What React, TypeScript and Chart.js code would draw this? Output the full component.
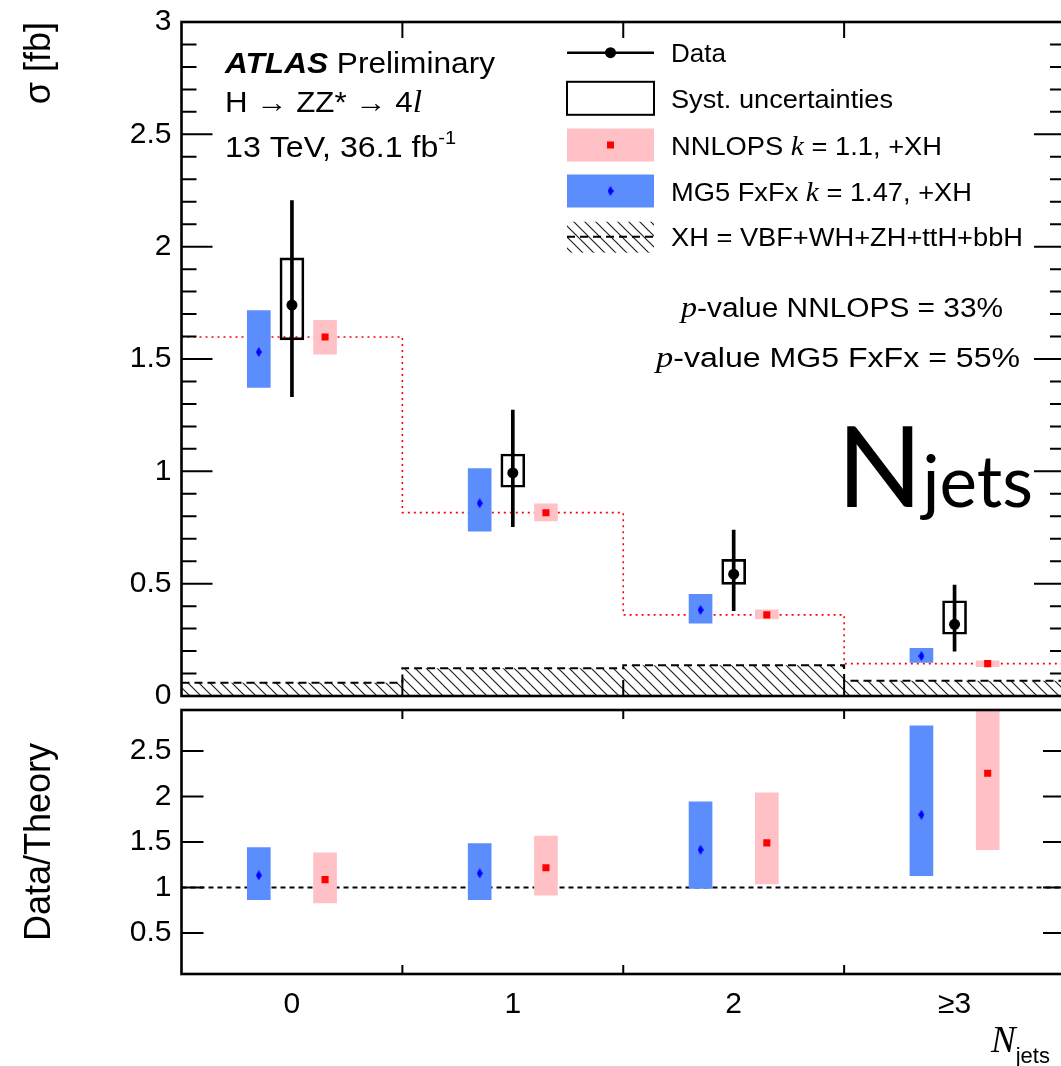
import React, { useEffect, useRef } from 'react';
import { Chart, registerables } from 'chart.js';

Chart.register(...registerables);

// ---------------- data ----------------
const categories = ['0', '1', '2', '≥3'];
const binEdges = [-0.5, 0.5, 1.5, 2.5, 3.5];

const dataVal = [1.74, 0.993, 0.542, 0.319];
const dataLo = [1.332, 0.754, 0.38, 0.2];
const dataHi = [2.205, 1.273, 0.739, 0.494];
const systLo = [1.585, 0.929, 0.497, 0.275];
const systHi = [1.95, 1.077, 0.608, 0.424];

const nnlopsVal = [1.598, 0.816, 0.361, 0.144];
const nnlopsLo = [1.522, 0.779, 0.343, 0.13];
const nnlopsHi = [1.672, 0.855, 0.383, 0.156];

const mg5Val = [1.531, 0.858, 0.383, 0.178];
const mg5Lo = [1.374, 0.734, 0.324, 0.15];
const mg5Hi = [1.715, 1.012, 0.453, 0.212];

const xhVal = [0.059, 0.123, 0.137, 0.068];

const ratioMg5Val = [1.134, 1.156, 1.415, 1.8];
const ratioMg5Lo = [0.866, 0.866, 0.99, 1.13];
const ratioMg5Hi = [1.44, 1.484, 1.94, 2.776];
const ratioNnlopsVal = [1.087, 1.218, 1.49, 2.255];
const ratioNnlopsLo = [0.83, 0.916, 1.04, 1.415];
const ratioNnlopsHi = [1.38, 1.564, 2.04, 3.1];

const topYTicks = [0, 0.5, 1, 1.5, 2, 2.5, 3];
const ratioYTicks = [0.5, 1, 1.5, 2, 2.5];
const ratioRef = 1;

const legendLabels = [
  'Data',
  'Syst. uncertainties',
  'NNLOPS k = 1.1, +XH',
  'MG5 FxFx k = 1.47, +XH',
  'XH = VBF+WH+ZH+ttH+bbH',
];
const pValueNnlops = '33%';
const pValueMg5 = '55%';

// ---------------- styling constants ----------------
const MG5_OFF = -0.15;
const NNLOPS_OFF = 0.15;
const BLUE = '#5b8dfd';
const PINK = '#ffc1c5';
const SANS = 'Liberation Sans';
const SERIF = 'Liberation Serif';
const BOT_TOP = 680;

const pts = (vals: number[], off = 0) => vals.map((v, i) => ({ x: i + off, y: v }));
const ranges = (lo: number[], hi: number[], off = 0) =>
  lo.map((l, i) => ({ x: i + off, y: [l, hi[i]] }));
const steps = (vals: number[]) => [
  ...vals.map((v, i) => ({ x: binEdges[i], y: v })),
  { x: binEdges[vals.length], y: vals[vals.length - 1] },
];

type Seg = { t: string; f: string; dy?: number };
function drawSegs(
  ctx: CanvasRenderingContext2D,
  x: number,
  y: number,
  segs: Seg[],
  target?: number,
) {
  ctx.textAlign = 'left';
  ctx.textBaseline = 'alphabetic';
  const widths = segs.map((s) => {
    ctx.font = s.f;
    return ctx.measureText(s.t).width;
  });
  const total = widths.reduce((a, b) => a + b, 0);
  const sx = target ? target / total : 1;
  ctx.save();
  ctx.translate(x, y);
  ctx.scale(sx, 1);
  let cx = 0;
  segs.forEach((s, i) => {
    ctx.font = s.f;
    ctx.fillText(s.t, cx, s.dy || 0);
    cx += widths[i];
  });
  ctx.restore();
}

function makeHatch(ctx: CanvasRenderingContext2D): CanvasPattern {
  const c = document.createElement('canvas');
  const s = 11;
  c.width = s;
  c.height = s;
  const g = c.getContext('2d')!;
  g.strokeStyle = '#222';
  g.lineWidth = 1.2;
  g.beginPath();
  g.moveTo(-2, -2);
  g.lineTo(s + 2, s + 2);
  g.moveTo(-2, s - 2);
  g.lineTo(2, s + 2);
  g.moveTo(s - 2, -2);
  g.lineTo(s + 2, 2);
  g.stroke();
  return ctx.createPattern(c, 'repeat')!;
}

function makeDiamond(): HTMLCanvasElement {
  const c = document.createElement('canvas');
  c.width = 6;
  c.height = 10;
  const g = c.getContext('2d')!;
  g.fillStyle = '#0000ff';
  g.beginPath();
  g.moveTo(3, 0);
  g.lineTo(6, 5);
  g.lineTo(3, 10);
  g.lineTo(0, 5);
  g.closePath();
  g.fill();
  return c;
}

function frameTicks(opts: {
  minorStep: number;
  majorStep: number;
  minorLen: number;
  majorLen: number;
  xLen: number;
}) {
  return {
    id: 'frameTicks',
    afterDatasetsDraw(chart: any) {
      const { ctx, chartArea: a, scales } = chart;
      const xs = scales.x;
      const ys = scales.y;
      ctx.save();
      ctx.strokeStyle = '#000';
      ctx.lineWidth = 2;
      ctx.beginPath();
      const n = Math.round((ys.max - ys.min) / opts.minorStep);
      const start = Math.ceil(ys.min / opts.minorStep - 1e-6) * opts.minorStep;
      for (let i = 0; i <= n + 1; i++) {
        const v = start + i * opts.minorStep;
        if (v > ys.max + 1e-9) break;
        const ratio = v / opts.majorStep;
        const major = Math.abs(ratio - Math.round(ratio)) < 1e-6;
        const len = major ? opts.majorLen : opts.minorLen;
        if (len <= 0) continue;
        const py = ys.getPixelForValue(v);
        ctx.moveTo(a.left, py);
        ctx.lineTo(a.left + len, py);
        ctx.moveTo(a.right, py);
        ctx.lineTo(a.right - len, py);
      }
      for (let i = 1; i < binEdges.length - 1; i++) {
        const px = xs.getPixelForValue(binEdges[i]);
        ctx.moveTo(px, a.top);
        ctx.lineTo(px, a.top + opts.xLen);
        ctx.moveTo(px, a.bottom);
        ctx.lineTo(px, a.bottom - opts.xLen);
      }
      ctx.stroke();
      ctx.lineWidth = 2.6;
      ctx.strokeRect(a.left, a.top, a.right - a.left, a.bottom - a.top);
      ctx.restore();
    },
  };
}

const fixYScale = (s: any) => {
  s.width = 181.5;
  s.paddingTop = 0;
  s.paddingBottom = 0;
};

export default function App() {
  const topRef = useRef<HTMLCanvasElement>(null);
  const botRef = useRef<HTMLCanvasElement>(null);

  useEffect(() => {
    const topCanvas = topRef.current!;
    const botCanvas = botRef.current!;
    const hatch = makeHatch(topCanvas.getContext('2d')!);
    const diamond = makeDiamond();

    const tickFont = { family: SANS, size: 30 };

    const overlayText = {
      id: 'overlayText',
      afterDraw(chart: any) {
        const ctx: CanvasRenderingContext2D = chart.ctx;
        ctx.save();
        ctx.fillStyle = '#000';
        // ATLAS label
        drawSegs(
          ctx,
          225,
          73,
          [
            { t: 'ATLAS', f: `italic bold 29px ${SANS}` },
            { t: ' Preliminary', f: `29px ${SANS}` },
          ],
          270,
        );
        drawSegs(
          ctx,
          225,
          112,
          [
            { t: 'H → ZZ* → 4', f: `29px ${SANS}` },
            { t: 'l', f: `italic 31px ${SERIF}` },
          ],
          197,
        );
        drawSegs(
          ctx,
          225,
          157,
          [
            { t: '13 TeV, 36.1 fb', f: `29px ${SANS}` },
            { t: '-1', f: `18px ${SANS}`, dy: -13 },
          ],
          231,
        );

        // legend
        const rows = [52.7, 98.3, 145, 191, 236.7];
        const sx0 = 567;
        const sx1 = 654;
        const sxc = (sx0 + sx1) / 2;
        const bh = 33;
        ctx.strokeStyle = '#000';
        ctx.lineWidth = 2.5;
        ctx.beginPath();
        ctx.moveTo(sx0, rows[0]);
        ctx.lineTo(sx1, rows[0]);
        ctx.stroke();
        ctx.beginPath();
        ctx.arc(sxc, rows[0], 5.5, 0, Math.PI * 2);
        ctx.fill();
        ctx.lineWidth = 2;
        ctx.strokeRect(sx0, rows[1] - bh / 2, sx1 - sx0, bh);
        ctx.fillStyle = PINK;
        ctx.fillRect(sx0, rows[2] - bh / 2, sx1 - sx0, bh);
        ctx.fillStyle = '#ff0000';
        ctx.fillRect(sxc - 3.5, rows[2] - 3.5, 7, 7);
        ctx.fillStyle = BLUE;
        ctx.fillRect(sx0, rows[3] - bh / 2, sx1 - sx0, bh);
        ctx.drawImage(diamond, sxc - 3, rows[3] - 5);
        ctx.fillStyle = hatch;
        ctx.fillRect(sx0, rows[4] - 15, sx1 - sx0, 31);
        ctx.setLineDash([8, 5]);
        ctx.lineWidth = 2;
        ctx.beginPath();
        ctx.moveTo(sx0, rows[4]);
        ctx.lineTo(sx1, rows[4]);
        ctx.stroke();
        ctx.setLineDash([]);

        ctx.fillStyle = '#000';
        const lf = `26px ${SANS}`;
        const kf = `italic 28px ${SERIF}`;
        const tx = 671;
        const off = 9.5;
        drawSegs(ctx, tx, rows[0] + off, [{ t: legendLabels[0], f: lf }], 55);
        drawSegs(ctx, tx, rows[1] + off, [{ t: legendLabels[1], f: lf }], 222);
        const [n1, n2] = legendLabels[2].split(' k');
        drawSegs(
          ctx,
          tx,
          rows[2] + off,
          [
            { t: n1 + ' ', f: lf },
            { t: 'k', f: kf },
            { t: n2, f: lf },
          ],
          271,
        );
        const [m1, m2] = legendLabels[3].split(' k');
        drawSegs(
          ctx,
          tx,
          rows[3] + off,
          [
            { t: m1 + ' ', f: lf },
            { t: 'k', f: kf },
            { t: m2, f: lf },
          ],
          301,
        );
        drawSegs(ctx, tx, rows[4] + off, [{ t: legendLabels[4], f: lf }], 352);

        // p-values
        const pf = `italic 29px ${SERIF}`;
        const vf = `27px ${SANS}`;
        drawSegs(
          ctx,
          681,
          317,
          [
            { t: 'p', f: pf },
            { t: '-value NNLOPS = ' + pValueNnlops, f: vf },
          ],
          322,
        );
        drawSegs(
          ctx,
          656,
          367,
          [
            { t: 'p', f: pf },
            { t: '-value MG5 FxFx = ' + pValueMg5, f: vf },
          ],
          364,
        );

        // big Njets
        drawSegs(ctx, 837, 507, [
          { t: 'N', f: `112px Lato` },
          { t: 'jets', f: `71px Lato` },
        ]);
        ctx.restore();
      },
    };

    const top = new Chart(topCanvas, {
      type: 'bar',
      data: {
        datasets: [
          {
            type: 'line',
            data: steps(xhVal),
            stepped: 'before',
            fill: 'origin',
            backgroundColor: hatch,
            borderColor: '#000',
            borderDash: [8, 5],
            borderWidth: 2,
            pointRadius: 0,
            order: 10,
          } as any,
          {
            type: 'line',
            data: steps(nnlopsVal),
            stepped: 'before',
            fill: false,
            borderColor: '#ff0000',
            borderDash: [2, 4],
            borderWidth: 1.6,
            pointRadius: 0,
            order: 9,
          },
          {
            type: 'bar',
            data: ranges(mg5Lo, mg5Hi, MG5_OFF),
            backgroundColor: BLUE,
            barThickness: 23,
            grouped: false,
            order: 8,
          } as any,
          {
            type: 'bar',
            data: ranges(nnlopsLo, nnlopsHi, NNLOPS_OFF),
            backgroundColor: PINK,
            barThickness: 23,
            grouped: false,
            order: 8,
          } as any,
          {
            type: 'bar',
            data: ranges(systLo, systHi),
            backgroundColor: 'rgba(0,0,0,0)',
            borderColor: '#000',
            borderWidth: 2,
            borderSkipped: false,
            barThickness: 24,
            grouped: false,
            order: 7,
          } as any,
          {
            type: 'bar',
            data: ranges(dataLo, dataHi),
            backgroundColor: '#000',
            barThickness: 3,
            grouped: false,
            order: 6,
          } as any,
          {
            type: 'line',
            data: pts(mg5Val, MG5_OFF),
            showLine: false,
            pointStyle: diamond,
            order: 5,
          } as any,
          {
            type: 'line',
            data: pts(nnlopsVal, NNLOPS_OFF),
            showLine: false,
            pointStyle: 'rect',
            pointRadius: 5,
            pointBorderWidth: 0,
            pointBackgroundColor: '#ff0000',
            order: 5,
          },
          {
            type: 'line',
            data: pts(dataVal),
            showLine: false,
            pointRadius: 5.5,
            pointBorderWidth: 0,
            pointBackgroundColor: '#000',
            order: 4,
          },
        ],
      },
      options: {
        responsive: false,
        animation: false,
        events: [],
        layout: { padding: { left: 0, top: 22, right: 35, bottom: 24 } },
        plugins: { legend: { display: false }, tooltip: { enabled: false } },
        scales: {
          x: {
            type: 'linear',
            min: binEdges[0],
            max: binEdges[binEdges.length - 1],
            offset: false,
            display: false,
          },
          y: {
            type: 'linear',
            min: topYTicks[0],
            max: topYTicks[topYTicks.length - 1],
            afterBuildTicks: (s: any) => {
              s.ticks = topYTicks.map((v) => ({ value: v }));
            },
            afterFit: fixYScale,
            grid: { display: false, drawTicks: false },
            border: { display: false },
            ticks: {
              font: tickFont,
              color: '#000',
              padding: 10,
              callback: (v: any) => String(v),
            },
            title: {
              display: true,
              text: 'σ [fb]',
              align: 'end',
              color: '#000',
              font: { family: SANS, size: 36 },
              padding: { top: 18, bottom: 0 },
            },
          },
        },
      } as any,
      plugins: [
        frameTicks({ minorStep: 0.1, majorStep: 0.5, minorLen: 15, majorLen: 31, xLen: 16 }),
        overlayText,
      ],
    });

    const axisTitle = {
      id: 'xTitle',
      afterDraw(chart: any) {
        const ctx: CanvasRenderingContext2D = chart.ctx;
        ctx.save();
        ctx.fillStyle = '#000';
        drawSegs(ctx, 991, 1052 - BOT_TOP, [
          { t: 'N', f: `italic 37px ${SERIF}` },
          { t: 'jets', f: `22px ${SANS}`, dy: 11 },
        ]);
        ctx.restore();
      },
    };

    const bot = new Chart(botCanvas, {
      type: 'bar',
      data: {
        datasets: [
          {
            type: 'line',
            data: [
              { x: binEdges[0], y: ratioRef },
              { x: binEdges[binEdges.length - 1], y: ratioRef },
            ],
            borderColor: '#000',
            borderDash: [5, 4],
            borderWidth: 2,
            pointRadius: 0,
            order: 10,
          },
          {
            type: 'bar',
            data: ranges(ratioMg5Lo, ratioMg5Hi, MG5_OFF),
            backgroundColor: BLUE,
            barThickness: 23,
            grouped: false,
            order: 8,
          } as any,
          {
            type: 'bar',
            data: ranges(ratioNnlopsLo, ratioNnlopsHi, NNLOPS_OFF),
            backgroundColor: PINK,
            barThickness: 23,
            grouped: false,
            order: 8,
          } as any,
          {
            type: 'line',
            data: pts(ratioMg5Val, MG5_OFF),
            showLine: false,
            pointStyle: diamond,
            order: 5,
          } as any,
          {
            type: 'line',
            data: pts(ratioNnlopsVal, NNLOPS_OFF),
            showLine: false,
            pointStyle: 'rect',
            pointRadius: 5,
            pointBorderWidth: 0,
            pointBackgroundColor: '#ff0000',
            order: 5,
          },
        ],
      },
      options: {
        responsive: false,
        animation: false,
        events: [],
        layout: { padding: { left: 0, top: 30, right: 35, bottom: 0 } },
        plugins: { legend: { display: false }, tooltip: { enabled: false } },
        scales: {
          x: {
            type: 'linear',
            min: binEdges[0],
            max: binEdges[binEdges.length - 1],
            offset: false,
            afterBuildTicks: (s: any) => {
              s.ticks = categories.map((_, i) => ({ value: i }));
            },
            afterFit: (s: any) => {
              s.height = 92;
            },
            grid: { display: false, drawTicks: false },
            border: { display: false },
            ticks: {
              font: tickFont,
              color: '#000',
              padding: 13,
              maxRotation: 0,
              autoSkip: false,
              callback: (v: any) => categories[Math.round(v)] ?? '',
            },
          },
          y: {
            type: 'linear',
            min: 0.05,
            max: 2.95,
            afterBuildTicks: (s: any) => {
              s.ticks = ratioYTicks.map((v) => ({ value: v }));
            },
            afterFit: fixYScale,
            grid: { display: false, drawTicks: false },
            border: { display: false },
            ticks: {
              font: tickFont,
              color: '#000',
              padding: 10,
              callback: (v: any) => String(v),
            },
            title: {
              display: true,
              text: 'Data/Theory',
              align: 'center',
              color: '#000',
              font: { family: SANS, size: 36 },
              padding: { top: 18, bottom: 0 },
            },
          },
        },
      } as any,
      plugins: [
        frameTicks({ minorStep: 0.5, majorStep: 0.5, minorLen: 22, majorLen: 22, xLen: 9 }),
        axisTitle,
      ],
    });

    return () => {
      top.destroy();
      bot.destroy();
    };
  }, []);

  return (
    <div
      style={{
        position: 'fixed',
        left: 0,
        top: 0,
        width: 1061,
        height: 1066,
        overflow: 'hidden',
        background: '#fff',
      }}
    >
      <canvas
        ref={topRef}
        width={1100}
        height={720}
        style={{ position: 'absolute', left: 0, top: 0 }}
      />
      <canvas
        ref={botRef}
        width={1100}
        height={386}
        style={{ position: 'absolute', left: 0, top: BOT_TOP }}
      />
    </div>
  );
}
